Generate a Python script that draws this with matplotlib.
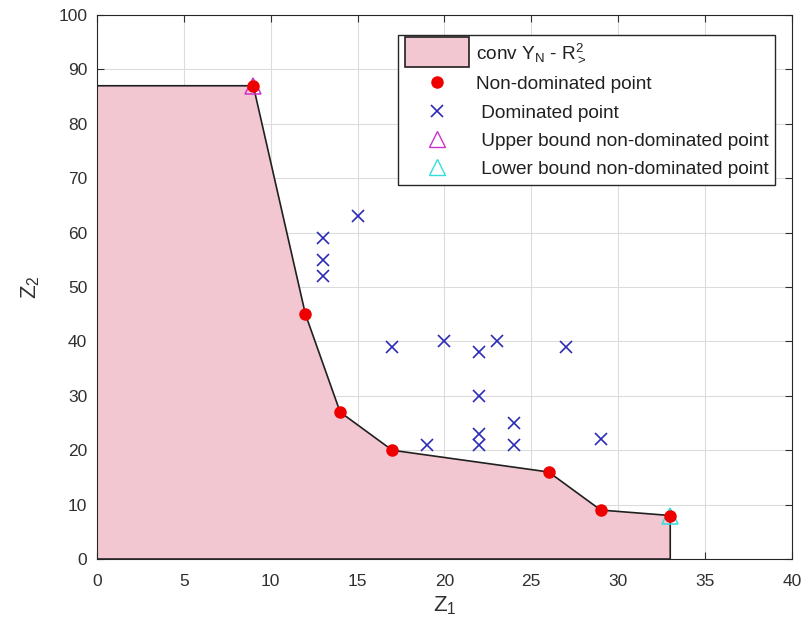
import matplotlib
matplotlib.use("Agg")
import matplotlib.pyplot as plt
from matplotlib.patches import Polygon, Patch, Rectangle
from matplotlib.lines import Line2D
from matplotlib.legend_handler import HandlerPatch

plt.rcParams['font.family'] = ['Liberation Sans', 'DejaVu Sans']
plt.rcParams['mathtext.fontset'] = 'custom'
plt.rcParams['mathtext.rm'] = 'Liberation Sans'
plt.rcParams['mathtext.it'] = 'Liberation Sans'

# Data
nd_z1 = [9, 12, 14, 17, 26, 29, 33]
nd_z2 = [87, 45, 27, 20, 16, 9, 8]

dom_z1 = [15, 13, 13, 13, 17, 20, 22, 23, 27, 22, 24, 22, 22, 24, 19, 29]
dom_z2 = [63, 59, 55, 52, 39, 40, 38, 40, 39, 30, 25, 23, 21, 21, 21, 22]

upper_bound = (9, 87)
lower_bound = (33, 8)

fill_col = '#f3c7d2'
txt_col = '#303030'

fig = plt.figure(figsize=(8.08, 6.37), dpi=100)
ax = fig.add_axes([0.120, 0.1224, 0.860, 0.854])

# Region conv Y_N - R^2_>
poly_x = [0] + nd_z1 + [nd_z1[-1], 0]
poly_y = [nd_z2[0]] + nd_z2 + [0, 0]
ax.add_patch(Polygon(list(zip(poly_x, poly_y)), closed=True,
                     facecolor=fill_col, edgecolor='#202020', linewidth=1.2, zorder=2))

ax.plot(nd_z1, nd_z2, 'o', color='#ee0000', markersize=8, zorder=4)
ax.plot(dom_z1, dom_z2, 'x', color='#2b2bb8', markersize=9, markeredgewidth=1.2, zorder=4)
ax.plot(*upper_bound, '^', markerfacecolor='none', markeredgecolor='#cc33cc',
        markersize=12, markeredgewidth=1.1, zorder=3)
ax.plot(*lower_bound, '^', markerfacecolor='none', markeredgecolor='#33dddd',
        markersize=12, markeredgewidth=1.1, zorder=3)

ax.set_xlim(0, 40)
ax.set_ylim(0, 100)
ax.set_xticks(range(0, 41, 5))
ax.set_yticks(range(0, 101, 10))
ax.grid(True, color='#dcdcdc', linewidth=0.8)
ax.set_axisbelow(True)
ax.tick_params(direction='in', labelsize=12.5, colors=txt_col, length=5,
               top=True, right=True, width=0.8)
ax.tick_params(axis='x', pad=11)
ax.tick_params(axis='y', pad=7)
for s in ax.spines.values():
    s.set_color('#262626')
    s.set_zorder(5)

ax.set_xlabel('Z$_1$', fontsize=16, color=txt_col, labelpad=4)
ax.set_ylabel('Z$_2$', fontsize=16, color=txt_col, labelpad=12)


# bigger box for the region entry, like the original
def big_rect(legend, orig_handle, xdescent, ydescent, width, height, fontsize):
    return Rectangle((-xdescent, -ydescent - 0.4 * fontsize), width, height + 0.8 * fontsize)


handles = [
    Patch(facecolor=fill_col, edgecolor='#202020', linewidth=1.2),
    Line2D([], [], marker='o', color='#ee0000', linestyle='none', markersize=8),
    Line2D([], [], marker='x', color='#2b2bb8', linestyle='none', markersize=9, markeredgewidth=1.2),
    Line2D([], [], marker='^', markerfacecolor='none', markeredgecolor='#cc33cc', linestyle='none', markersize=12),
    Line2D([], [], marker='^', markerfacecolor='none', markeredgecolor='#33dddd', linestyle='none', markersize=12),
]
labels = [r'conv Y$_N$ - R$^2_>$', 'Non-dominated point', ' Dominated point',
          ' Upper bound non-dominated point', ' Lower bound non-dominated point']
leg = ax.legend(handles, labels, loc='upper right', bbox_to_anchor=(0.976, 0.963),
                borderaxespad=0, fontsize=13.7, fancybox=False, framealpha=1,
                edgecolor='#262626', handlelength=3.4, handleheight=0.8,
                labelspacing=0.55, handletextpad=0.35, borderpad=0.35,
                handler_map={Patch: HandlerPatch(patch_func=big_rect)})
leg.get_frame().set_linewidth(1.0)
for t in leg.get_texts():
    t.set_color('#202020')

fig.savefig('out.png', dpi=100)
